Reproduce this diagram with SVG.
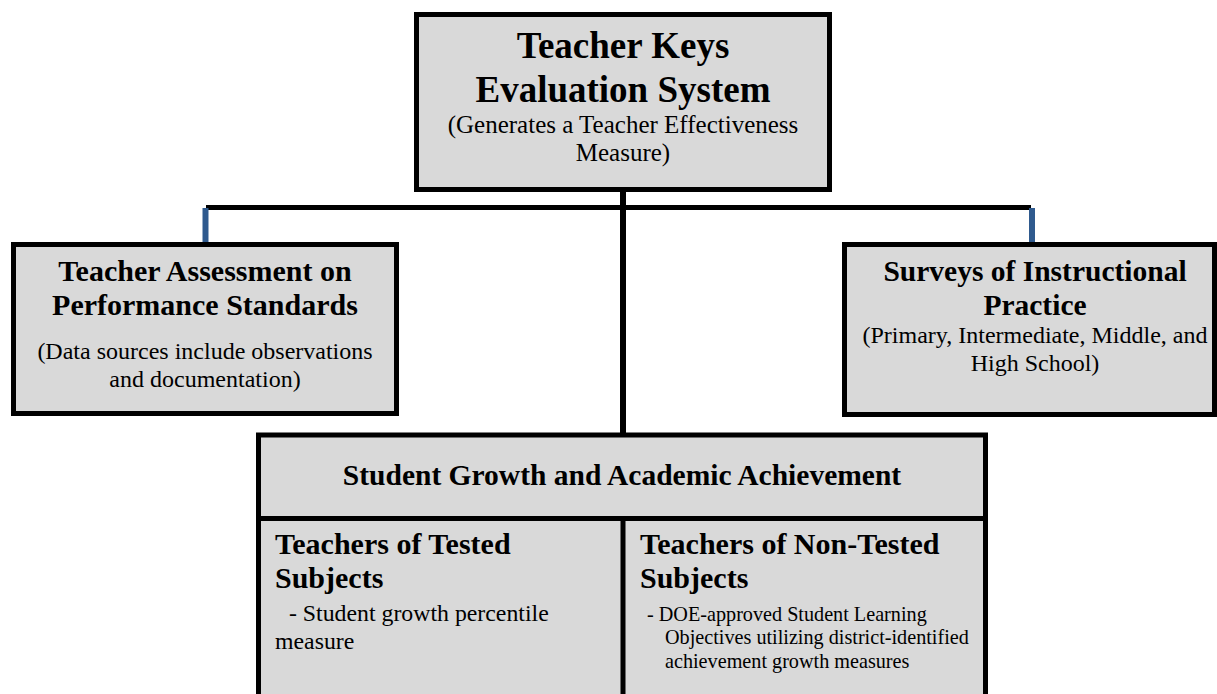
<svg xmlns="http://www.w3.org/2000/svg" width="1217" height="694" viewBox="0 0 1217 694">
<style>
.box{fill:#d9d9d9;stroke:#000;stroke-width:5}
.t{font-family:"Liberation Serif","Times New Roman",serif;fill:#000}
.b{font-weight:bold}
.c{text-anchor:middle}
.conn{stroke:#000;stroke-width:5;fill:none}
.blue{stroke:#2f5a8e;stroke-width:6;fill:none}
</style>
<rect width="1217" height="694" fill="#fff"/>
<g id="connectors">
<line class="conn" x1="623" y1="190" x2="623" y2="434" style="stroke-width:6"/>
<line class="conn" x1="206" y1="207.5" x2="1031" y2="207.5"/>
<line class="blue" x1="205.5" y1="208" x2="205.5" y2="244"/>
<line class="blue" x1="1032" y1="208" x2="1032" y2="244"/>
</g>
<g id="top">
<rect class="box" x="416.5" y="14.5" width="413" height="175"/>
<text class="t b c" x="623" y="58" font-size="37">Teacher Keys</text>
<text class="t b c" x="623" y="102" font-size="37">Evaluation System</text>
<text class="t c" x="623" y="133" font-size="25">(Generates a Teacher Effectiveness</text>
<text class="t c" x="623" y="161" font-size="25">Measure)</text>
</g>
<g id="left">
<rect class="box" x="13.5" y="244.5" width="383" height="169"/>
<text class="t b c" x="205" y="281" font-size="30">Teacher Assessment on</text>
<text class="t b c" x="205" y="315" font-size="30">Performance Standards</text>
<text class="t c" x="205" y="359" font-size="24">(Data sources include observations</text>
<text class="t c" x="205" y="387" font-size="24">and documentation)</text>
</g>
<g id="right">
<rect class="box" x="844.5" y="244.5" width="370" height="170"/>
<text class="t b c" x="1035" y="281" font-size="29.5">Surveys of Instructional</text>
<text class="t b c" x="1035" y="315" font-size="29.5">Practice</text>
<text class="t c" x="1035" y="343" font-size="24">(Primary, Intermediate, Middle, and</text>
<text class="t c" x="1035" y="371" font-size="24">High School)</text>
</g>
<g id="bottom">
<rect class="box" x="258.5" y="435" width="727" height="262"/>
<line class="conn" x1="258.5" y1="518.5" x2="985.5" y2="518.5"/>
<line class="conn" x1="623" y1="518.5" x2="623" y2="697"/>
<text class="t b c" x="622" y="485" font-size="29.5">Student Growth and Academic Achievement</text>
</g>
<g id="tested">
<text class="t b" x="275" y="554" font-size="30">Teachers of Tested</text>
<text class="t b" x="275" y="588" font-size="30">Subjects</text>
<text class="t" x="289" y="621" font-size="23.8">- Student growth percentile</text>
<text class="t" x="275" y="649" font-size="23.8">measure</text>
</g>
<g id="nontested">
<text class="t b" x="640" y="554" font-size="30">Teachers of Non-Tested</text>
<text class="t b" x="640" y="588" font-size="30">Subjects</text>
<text class="t" x="647" y="621" font-size="20.2">- DOE-approved Student Learning</text>
<text class="t" x="665" y="644" font-size="20.2">Objectives utilizing district-identified</text>
<text class="t" x="665" y="668" font-size="20.2">achievement growth measures</text>
</g>
</svg>
